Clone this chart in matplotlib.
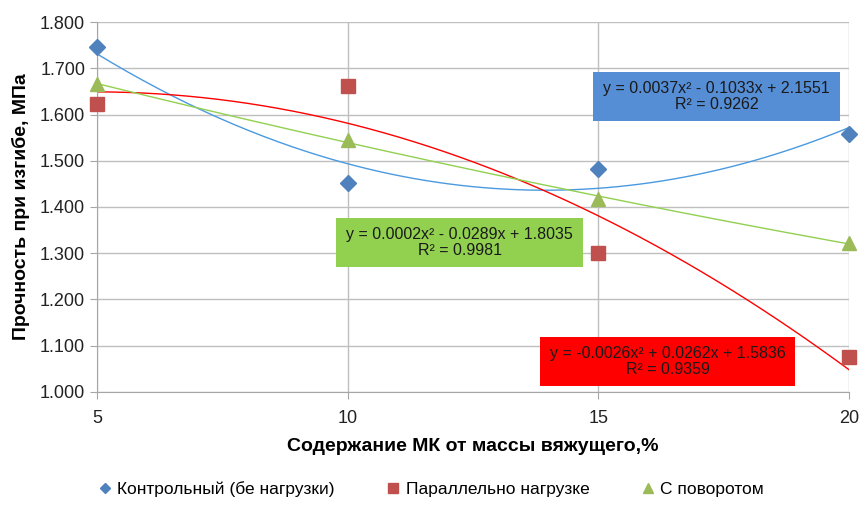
import numpy as np
import matplotlib
matplotlib.use("Agg")
import matplotlib.pyplot as plt
from matplotlib.patches import Rectangle

plt.rcParams['font.family'] = ['Liberation Sans', 'DejaVu Sans']

x = [5, 10, 15, 20]
control = [1.745, 1.452, 1.482, 1.558]
parallel = [1.622, 1.662, 1.300, 1.075]
rotation = [1.665, 1.545, 1.418, 1.322]
names = ["Контрольный (бе нагрузки)", "Параллельно нагрузке", "С поворотом"]
eq_texts = ["y = 0.0037x² - 0.1033x + 2.1551\nR² = 0.9262",
            "y = -0.0026x² + 0.0262x + 1.5836\nR² = 0.9359",
            "y = 0.0002x² - 0.0289x + 1.8035\nR² = 0.9981"]
yticks = [1.0, 1.1, 1.2, 1.3, 1.4, 1.5, 1.6, 1.7, 1.8]

fig = plt.figure(figsize=(8.62, 5.05), dpi=100)
ax = fig.add_axes([0.1125, 0.2238, 0.8725, 0.7326])

mcol = ['#4F81BD', '#C0504D', '#9BBB59']
lcol = ['#4A9AE0', '#FF0000', '#92D050']
markers = ['D', 's', '^']
msz = [8, 10, 10]
xs = np.linspace(5, 20, 200)
series = [control, parallel, rotation]
for s, mc, lc, m, ms, nm in zip(series, mcol, lcol, markers, msz, names):
    c = np.polyfit(x, s, 2)
    ax.plot(xs, np.polyval(c, xs), color=lc, lw=1.0, zorder=2)
    ax.plot(x, s, linestyle='none', marker=m, color=mc, ms=ms, zorder=6, label=nm, clip_on=False)

# equation boxes: (x0, x1, y0, y1) in data coords, colour
boxes = [(14.894, 19.82, 1.586, 1.692, '#558ED5', eq_texts[0]),
         (13.836, 18.923, 1.013, 1.1189, '#FF0000', eq_texts[1]),
         (9.767, 14.694, 1.2703, 1.3762, '#92D050', eq_texts[2])]
for x0, x1, y0, y1, col, t in boxes:
    ax.add_patch(Rectangle((x0, y0), x1 - x0, y1 - y0, facecolor=col, edgecolor='none', zorder=4))
    ax.text((x0 + x1) / 2, (y0 + y1) / 2, t, ha='center', va='center', fontsize=11.5,
            color='#1a1a1a', zorder=5, linespacing=1.1)

ax.set_xlim(5, 20)
ax.set_ylim(1.0, 1.8)
ax.set_xticks(x)
ax.set_yticks(yticks)
ax.set_yticklabels([f"{v:.3f}" for v in yticks])
ax.grid(True, color='#BFBFBF', lw=1.0, zorder=0)
ax.set_axisbelow(True)
for sp in ['top', 'right']:
    ax.spines[sp].set_visible(False)
for sp in ['left', 'bottom']:
    ax.spines[sp].set_color('#A6A6A6')
ax.tick_params(axis='both', colors='#A6A6A6', labelcolor='#222222', labelsize=13, length=5)
ax.tick_params(axis='x', pad=8)

ax.set_xlabel("Содержание МК от массы вяжущего,%", fontsize=14, fontweight='bold', labelpad=8)
ax.set_ylabel("Прочность при изгибе, МПа", fontsize=14, fontweight='bold', labelpad=7)

leg = fig.legend(loc='lower center', bbox_to_anchor=(0.5, -0.015), ncol=3, frameon=False,
                 fontsize=12.5, handlelength=0.8, handletextpad=0.3, columnspacing=3.0,
                 markerscale=0.7)

fig.savefig("out.png", dpi=100)
